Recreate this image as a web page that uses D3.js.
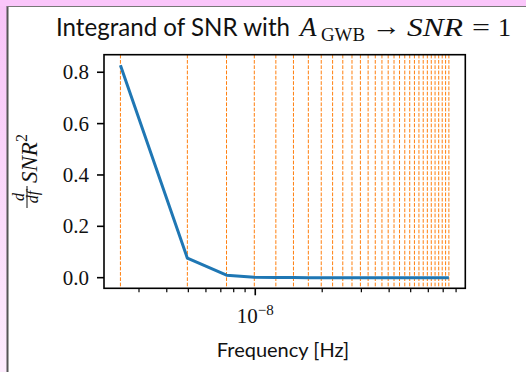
<!DOCTYPE html>
<html><head><meta charset="utf-8">
<script src="https://cdn.jsdelivr.net/npm/d3@7"></script>
<style>html,body{margin:0;padding:0;background:#fff;overflow:hidden}</style>
</head><body>
<svg id="c" width="526" height="372"></svg>
<script>
// ---- data ----
const baseFreq = 2.475e-9; // Hz, 1/T
const harmonics = [1,2,3,4,5,6,7,8,9,10,11,12,13,14,15,16,17,18,19,20,21,22,23,24,25,26,27,28,29,30];
const integrand = [0.827,0.076,0.0095,0.0021,0.0008,0.0004,0.00022,0.00013,0.00009,0.00006,
                   0.00004,0.00003,0.00002,0.000016,0.000012,0.00001,0.000008,0.000006,0.000005,0.000004,
                   0.0000035,0.000003,0.0000025,0.000002,0.0000018,0.0000015,0.0000013,0.0000011,0.000001,0.0000009];
const yTicks = [0.0,0.2,0.4,0.6,0.8];
const yTickLabels = ["0.0","0.2","0.4","0.6","0.8"];
const xMajorTicks = [1e-8];
const xMinorTicks = [3e-9,4e-9,5e-9,6e-9,7e-9,8e-9,9e-9,2e-8,3e-8,4e-8,5e-8,6e-8,7e-8,8e-8];

const freqs = harmonics.map(k => k*baseFreq);
const pts = freqs.map((f,i)=>({f, v: integrand[i]}));

const svg = d3.select("#c");
// background frame
const defs = svg.append("defs");
const g = defs.append("linearGradient").attr("id","lg").attr("x1",0).attr("y1",0).attr("x2",0).attr("y2",1);
g.append("stop").attr("offset","0%").attr("stop-color","#f8c4f8");
g.append("stop").attr("offset","100%").attr("stop-color","#fdecfd");
svg.append("rect").attr("x",0).attr("y",0).attr("width",526).attr("height",372).attr("fill","#fac6fa");
svg.append("rect").attr("x",0).attr("y",6).attr("width",8).attr("height",366).attr("fill","url(#lg)");
svg.append("rect").attr("x",8).attr("y",7).attr("width",518).attr("height",365).attr("fill","#fff");
svg.append("line").attr("x1",7.5).attr("x2",7.5).attr("y1",6).attr("y2",372).attr("stroke","#555").attr("stroke-width",2);
svg.append("line").attr("x1",7).attr("x2",526).attr("y1",6.5).attr("y2",6.5).attr("stroke","#777").attr("stroke-width",1.2);

const L=104, R=465.3, T=54.7, B=288.3;
const lmin = Math.log10(d3.min(freqs)), lmax = Math.log10(d3.max(freqs));
const lm = (lmax-lmin)*0.05;
const x = d3.scaleLog().domain([Math.pow(10,lmin-lm), Math.pow(10,lmax+lm)]).range([L,R]);
const vmin = d3.min(integrand), vmax = d3.max(integrand), vm=(vmax-vmin)*0.05;
const y = d3.scaleLinear().domain([vmin-vm, vmax+vm]).range([B,T]);

const plot = svg.append("g");
// orange dashed verticals
plot.selectAll("line.v").data(freqs).join("line").attr("class","v")
  .attr("x1",d=>x(d)).attr("x2",d=>x(d)).attr("y1",T).attr("y2",B)
  .attr("stroke","#ff7f0e").attr("stroke-width",1).attr("stroke-dasharray","3.7,1.6");
// blue line
plot.append("path").datum(pts)
  .attr("d", d3.line().x(d=>x(d.f)).y(d=>y(d.v)))
  .attr("fill","none").attr("stroke","#1f77b4").attr("stroke-width",3).attr("stroke-linejoin","round");

// spines
svg.append("rect").attr("x",L).attr("y",T).attr("width",R-L).attr("height",B-T)
  .attr("fill","none").attr("stroke","#000").attr("stroke-width",1.6);

const serif = "'Liberation Serif', 'DejaVu Serif', serif";
const sans = "Lato, 'Open Sans', sans-serif";

// y ticks
const yAx = svg.append("g");
yTicks.forEach((t,i)=>{
  yAx.append("line").attr("x1",L-7).attr("x2",L).attr("y1",y(t)).attr("y2",y(t)).attr("stroke","#000").attr("stroke-width",1.6);
  yAx.append("text").attr("x",L-15).attr("y",y(t)+7).attr("text-anchor","end")
    .attr("font-family",serif).attr("font-size",21).attr("fill","#111").text(yTickLabels[i]);
});
// x ticks
const xAx = svg.append("g");
xMajorTicks.forEach(t=>{
  xAx.append("line").attr("x1",x(t)).attr("x2",x(t)).attr("y1",B).attr("y2",B+7).attr("stroke","#000").attr("stroke-width",1.6);
  const tx = xAx.append("text").attr("x",x(t)).attr("y",322.7).attr("text-anchor","middle")
    .attr("font-family",serif).attr("font-size",21).attr("fill","#111");
  tx.append("tspan").text("10");
  tx.append("tspan").attr("dy",-8).attr("font-size",15).text("\u22128");
});
xMinorTicks.forEach(t=>{
  xAx.append("line").attr("x1",x(t)).attr("x2",x(t)).attr("y1",B).attr("y2",B+4).attr("stroke","#000").attr("stroke-width",1.2);
});

// x label
svg.append("text").attr("x",283).attr("y",357).attr("text-anchor","middle")
  .attr("font-family",sans).attr("font-size",20).attr("fill","#111").text("Frequency [Hz]");

// title (pieces placed like the LaTeX-rendered original)
const tY = 36;
const tt = svg.append("g").attr("fill","#111");
tt.append("text").attr("x",56).attr("y",tY).attr("font-family",sans).attr("font-size",24.5)
  .attr("textLength",234).attr("lengthAdjust","spacingAndGlyphs").text("Integrand of SNR with");
tt.append("text").attr("x",300).attr("y",tY).attr("font-family",serif).attr("font-style","italic").attr("font-size",27).text("A");
tt.append("text").attr("x",321).attr("y",tY+5).attr("font-family",serif).attr("font-size",18)
  .attr("textLength",44).attr("lengthAdjust","spacingAndGlyphs").text("GWB");
tt.append("text").attr("x",372).attr("y",tY-1).attr("font-family",serif).attr("font-size",26)
  .attr("textLength",29).attr("lengthAdjust","spacingAndGlyphs").text("\u2192");
tt.append("text").attr("x",407).attr("y",tY).attr("font-family",serif).attr("font-style","italic").attr("font-size",26)
  .attr("textLength",56).attr("lengthAdjust","spacingAndGlyphs").text("SNR");
tt.append("text").attr("x",472).attr("y",tY).attr("font-family",serif).attr("font-size",26)
  .attr("textLength",18).attr("lengthAdjust","spacingAndGlyphs").text("=");
tt.append("text").attr("x",498).attr("y",tY).attr("font-family",serif).attr("font-size",26).text("1");

// y label (rotated)
const yl = svg.append("g").attr("transform","translate(37,168) rotate(-90)");
yl.append("text").attr("x",-29).attr("y",-13).attr("text-anchor","middle").attr("font-family",serif)
  .attr("font-style","italic").attr("font-size",16).attr("fill","#111").text("d");
yl.append("line").attr("x1",-40).attr("x2",-18).attr("y1",-10).attr("y2",-10).attr("stroke","#111").attr("stroke-width",1);
yl.append("text").attr("x",-29).attr("y",1).attr("text-anchor","middle").attr("font-family",serif)
  .attr("font-style","italic").attr("font-size",16).attr("fill","#111").text("df");
const sn = yl.append("text").attr("x",-15).attr("y",0).attr("font-family",serif).attr("font-size",23).attr("fill","#111");
sn.append("tspan").attr("font-style","italic").text("SNR");
sn.append("tspan").attr("font-size",16).attr("dy",-10).text("2");
</script>
</body></html>
